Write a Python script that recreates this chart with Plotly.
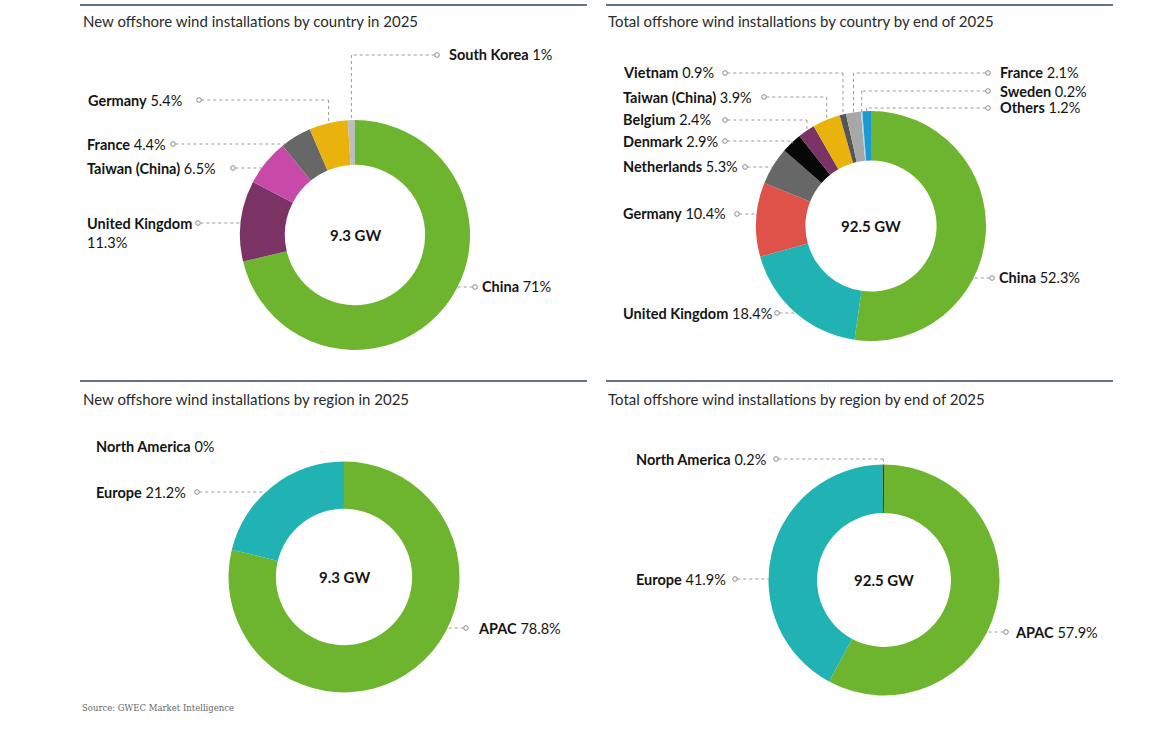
import math
import plotly.graph_objects as go

W, H = 1161, 734

# ---------------- data ----------------
titles = [
    "New offshore wind installations by country in 2025",
    "Total offshore wind installations by country by end of 2025",
    "New offshore wind installations by region in 2025",
    "Total offshore wind installations by region by end of 2025",
]
center_texts = ["9.3 GW", "92.5 GW", "9.3 GW", "92.5 GW"]

new_country_labels = ["China", "United Kingdom", "Taiwan (China)", "France", "Germany", "South Korea"]
new_country_values = [71, 11.3, 6.5, 4.4, 5.4, 1]

total_country_labels = ["China", "United Kingdom", "Germany", "Netherlands", "Denmark", "Belgium",
                        "Taiwan (China)", "Vietnam", "France", "Sweden", "Others"]
total_country_values = [52.3, 18.4, 10.4, 5.3, 2.9, 2.4, 3.9, 0.9, 2.1, 0.2, 1.2]

new_region_labels = ["APAC", "Europe", "North America"]
new_region_values = [78.8, 21.2, 0]

total_region_labels = ["APAC", "Europe", "North America"]
total_region_values = [57.9, 41.9, 0.2]

source_text = "Source: GWEC Market Intelligence"

# ---------------- styling / layout ----------------
GREEN = "#6db52e"
TEAL = "#21b3b4"
PURPLE = "#7a3364"
PINK = "#c74aa8"
DGRAY = "#676767"
YELLOW = "#e9b20c"
LGRAY = "#bdbdbd"
RED = "#de5249"
BLACK = "#070707"

FONT = "Lato"
TXT = "#151515"
LINE = "#9a9a9a"

charts = [
    dict(labels=new_country_labels, values=new_country_values, cx=355, cy=235, R=115, hole=0.61,
         colors=[GREEN, PURPLE, PINK, DGRAY, YELLOW, LGRAY],
         # per slice: text x, text y, circle x, side of text relative to circle, leader mode
         lab=[dict(tx=480, ty=287, ccx=475, side="r", mode="h"),
              dict(tx=85, ty=223, ccx=198, side="l", mode="h", two=True),
              dict(tx=85, ty=168, ccx=233, side="l", mode="h"),
              dict(tx=85, ty=144, ccx=173, side="l", mode="h"),
              dict(tx=86, ty=100, ccx=199, side="l", mode="L"),
              dict(tx=447, ty=55, ccx=437, side="r", mode="L")]),
    dict(labels=total_country_labels, values=total_country_values, cx=871, cy=226, R=115, hole=0.57,
         colors=[GREEN, TEAL, RED, DGRAY, BLACK, PURPLE, YELLOW, "#555555", "#a7a7a7", "#a9d9ea", "#1c9ad6"],
         lab=[dict(tx=997, ty=278, ccx=992, side="r", mode="h"),
              dict(tx=621, ty=313, ccx=777, side="l", mode="h"),
              dict(tx=621, ty=214, ccx=737, side="l", mode="h"),
              dict(tx=621, ty=167, ccx=745, side="l", mode="h"),
              dict(tx=621, ty=141, ccx=725, side="l", mode="L"),
              dict(tx=621, ty=120, ccx=725, side="l", mode="L"),
              dict(tx=621, ty=97, ccx=764, side="l", mode="L"),
              dict(tx=621, ty=73, ccx=725, side="l", mode="L"),
              dict(tx=998, ty=73, ccx=988, side="r", mode="L"),
              dict(tx=998, ty=91, ccx=988, side="r", mode="L"),
              dict(tx=998, ty=108, ccx=988, side="r", mode="L")]),
    dict(labels=new_region_labels, values=new_region_values, cx=344, cy=577, R=115.5, hole=0.59,
         colors=[GREEN, TEAL, "#444444"],
         lab=[dict(tx=476, ty=628, ccx=466, side="r", mode="h"),
              dict(tx=94, ty=492, ccx=197, side="l", mode="h"),
              dict(tx=94, ty=446, ccx=None, side="l", mode=None)]),
    dict(labels=total_region_labels, values=total_region_values, cx=884, cy=580, R=115.5, hole=0.58,
         colors=[GREEN, TEAL, "#3a3a3a"],
         lab=[dict(tx=1013, ty=632, ccx=1006, side="r", mode="h"),
              dict(tx=634, ty=579, ccx=735, side="l", mode="h"),
              dict(tx=634, ty=459, ccx=776, side="l", mode="L")]),
]
title_pos = [(81, 21), (606, 21), (81, 399), (606, 399)]
rule_lines = [(80, 587, 5), (606, 1113, 5), (80, 587, 381), (606, 1113, 381)]


def px(x):
    return x / W


def py(y):
    return 1 - y / H


def fmt(v):
    return f"{v:g}%"


fig = go.Figure()
shapes = []
annotations = []

for i, ch in enumerate(charts):
    cx, cy, R = ch["cx"], ch["cy"], ch["R"]
    fig.add_trace(go.Pie(
        labels=ch["labels"], values=ch["values"], hole=ch["hole"], sort=False,
        direction="clockwise", rotation=0, textinfo="none",
        marker=dict(colors=ch["colors"], line=dict(width=0)),
        domain=dict(x=[px(cx - R), px(cx + R)], y=[py(cy + R), py(cy - R)]),
        showlegend=False, hovertemplate="%{label}: %{value}%<extra></extra>",
    ))
    annotations.append(dict(x=px(cx), y=py(cy), xref="paper", yref="paper",
                            xanchor="center", yanchor="middle",
                            text=f"<b>{center_texts[i]}</b>", showarrow=False,
                            font=dict(family=FONT, size=15, color=TXT)))
    tx, ty = title_pos[i]
    annotations.append(dict(x=px(tx), y=py(ty), xref="paper", yref="paper", xanchor="left",
                            yanchor="middle", text=titles[i], showarrow=False,
                            font=dict(family=FONT, size=15, color="#2a2a2a")))

    total = sum(ch["values"])
    cum = 0
    for j, (lbl, val) in enumerate(zip(ch["labels"], ch["values"])):
        L = ch["lab"][j]
        mid = (cum + val / 2) / total * 2 * math.pi
        cum += val
        if L.get("two"):
            text = f"<b>{lbl}</b><br>{fmt(val)}"
            ann_y = py(L["ty"] - 10)
            yanchor = "top"
        else:
            text = f"<b>{lbl}</b> {fmt(val)}"
            ann_y = py(L["ty"])
            yanchor = "middle"
        annotations.append(dict(x=px(L["tx"]), y=ann_y, xref="paper", yref="paper",
                                xanchor="left", yanchor=yanchor, align="left",
                                text=text, showarrow=False,
                                font=dict(family=FONT, size=14.5, color=TXT)))
        if L["mode"] is None:
            continue
        ccx, ly = L["ccx"], L["ty"]
        r = 2.3
        shapes.append(dict(type="circle", xref="paper", yref="paper",
                           x0=px(ccx - r), x1=px(ccx + r), y0=py(ly + r), y1=py(ly - r),
                           line=dict(color="#8a8a8a", width=1), fillcolor="white"))
        start = ccx + r if L["side"] == "l" else ccx - r
        if L["mode"] == "h":
            dy = ly - cy
            dx = math.sqrt(max(R * R - dy * dy, 0))
            xt = cx - dx if L["side"] == "l" else cx + dx
            shapes.append(dict(type="line", xref="paper", yref="paper",
                               x0=px(start), x1=px(xt), y0=py(ly), y1=py(ly),
                               line=dict(color=LINE, width=1, dash="dot")))
        else:
            xt = cx + (R - 1) * math.sin(mid)
            yt = cy - (R - 1) * math.cos(mid)
            shapes.append(dict(type="line", xref="paper", yref="paper",
                               x0=px(start), x1=px(xt), y0=py(ly), y1=py(ly),
                               line=dict(color=LINE, width=1, dash="dot")))
            shapes.append(dict(type="line", xref="paper", yref="paper",
                               x0=px(xt), x1=px(xt), y0=py(ly), y1=py(yt),
                               line=dict(color=LINE, width=1, dash="dot")))

for x0, x1, y in rule_lines:
    shapes.append(dict(type="line", xref="paper", yref="paper",
                       x0=px(x0), x1=px(x1), y0=py(y), y1=py(y),
                       line=dict(color="#2c4858", width=1.3)))

annotations.append(dict(x=px(80), y=py(708), xref="paper", yref="paper", xanchor="left",
                        yanchor="middle", text=source_text, showarrow=False,
                        font=dict(family="DejaVu Serif", size=8.5, color="#666666")))

fig.update_layout(width=W, height=H, margin=dict(l=0, r=0, t=0, b=0),
                  paper_bgcolor="white", plot_bgcolor="white",
                  shapes=shapes, annotations=annotations, showlegend=False)

fig.write_html("out.html")
